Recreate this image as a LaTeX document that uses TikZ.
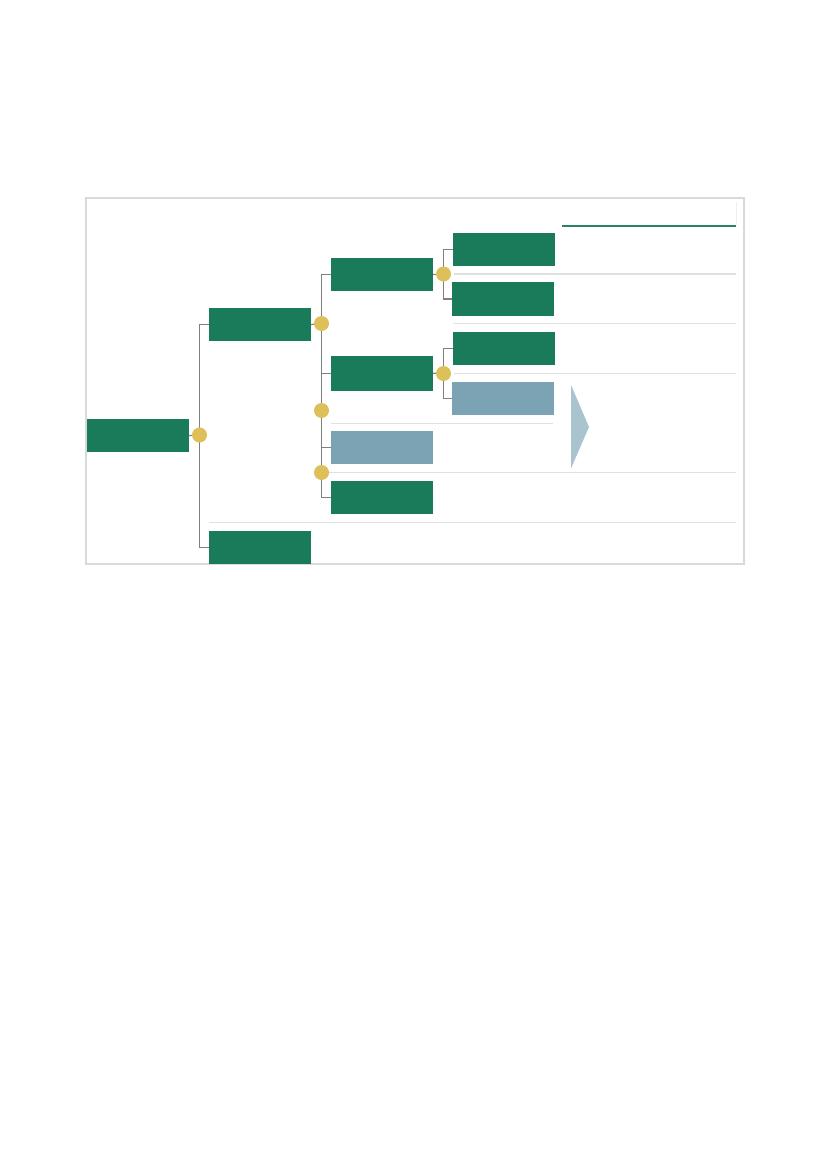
\documentclass[tikz,border=0pt]{standalone}
\usetikzlibrary{calc}
\definecolor{tgreen}{RGB}{25,123,89}
\definecolor{tblue}{RGB}{123,163,179}
\definecolor{tgold}{RGB}{221,192,90}
\definecolor{tline}{RGB}{128,128,128}
\definecolor{tsep}{RGB}{224,224,224}
\definecolor{tframe}{RGB}{217,217,217}
\definecolor{tarrow}{RGB}{170,196,207}
\definecolor{tdeco}{RGB}{42,130,98}
\begin{document}
\begin{tikzpicture}[x=1pt,y=-1pt,
  gbox/.style={fill=tgreen,draw=none,minimum width=102pt,minimum height=33pt,anchor=north west,inner sep=0pt,outer sep=0pt},
  bbox/.style={gbox,fill=tblue},
  dot/.style={circle,fill=tgold,draw=none,minimum size=15pt,inner sep=0pt},
  conn/.style={draw=tline,line width=1.2pt},
  sepline/.style={draw=tsep,line width=1.1pt},
]
\useasboundingbox (0,0) rectangle (827,1169);
% frame
\draw[draw=tframe,line width=1.1pt] (86,198) rectangle (744,564);
% separators
\draw[sepline] (454,274) -- (736,274);
\draw[sepline] (453,323.5) -- (736,323.5);
\draw[sepline] (454,373.5) -- (736,373.5);
\draw[sepline] (331,423.5) -- (553,423.5);
\draw[sepline] (329,472.5) -- (736,472.5);
\draw[sepline] (209,522.5) -- (736,522.5);
% top decoration
\draw[draw=tdeco,line width=2.5pt] (562,226) -- (736,226);
\draw[draw=tsep!60!tgreen!20,line width=0.8pt] (736.5,202) -- (736.5,225);
% arrow
\fill[tarrow] (571,385) -- (589,427) -- (571,468.5) -- cycle;
% boxes
\node[gbox] (root) at (87,419) {};
\node[gbox] (A) at (209,308) {};
\node[gbox] (B) at (209,531) {};
\node[gbox] (C) at (331,258) {};
\node[gbox,minimum height=34.5pt] (D) at (331,356) {};
\node[bbox] (E) at (331,431) {};
\node[gbox] (F) at (331,481) {};
\node[gbox] (G) at (453,233) {};
\node[gbox,minimum height=34pt] (H) at (452,282) {};
\node[gbox] (I) at (453,332) {};
\node[bbox] (J) at (452,382) {};
% dot positions
\coordinate (d0) at (199.5,435);
\coordinate (dA) at (321.5,323.5);
\coordinate (dM) at (321.5,410.5);
\coordinate (dN) at (321.5,472.5);
\coordinate (dC) at (443.5,274);
\coordinate (dD) at (443.5,373.5);
% connectors
\draw[conn] (root.east) -- (d0);
\draw[conn] (A.west) -| (d0) |- (B.west);
\draw[conn] (A.east) -- (dA);
\draw[conn] (C.west) -| (dA) |- (F.west);
\draw[conn] (D.west) -- (D.west -| dA);
\draw[conn] (E.west) -- (E.west -| dA);
\draw[conn] (C.east) -- (dC);
\draw[conn] (G.west) -| (dC) |- (H.west);
\draw[conn] (D.east) -- (dD);
\draw[conn] (I.west) -| (dD) |- (J.west);
% dots
\node[dot] (n0) at (d0) {};
\node[dot] (nA) at (dA) {};
\node[dot] (nM) at (dM) {};
\node[dot] (nN) at (dN) {};
\node[dot] (nC) at (dC) {};
\node[dot] (nD) at (dD) {};
\end{tikzpicture}
\end{document}
